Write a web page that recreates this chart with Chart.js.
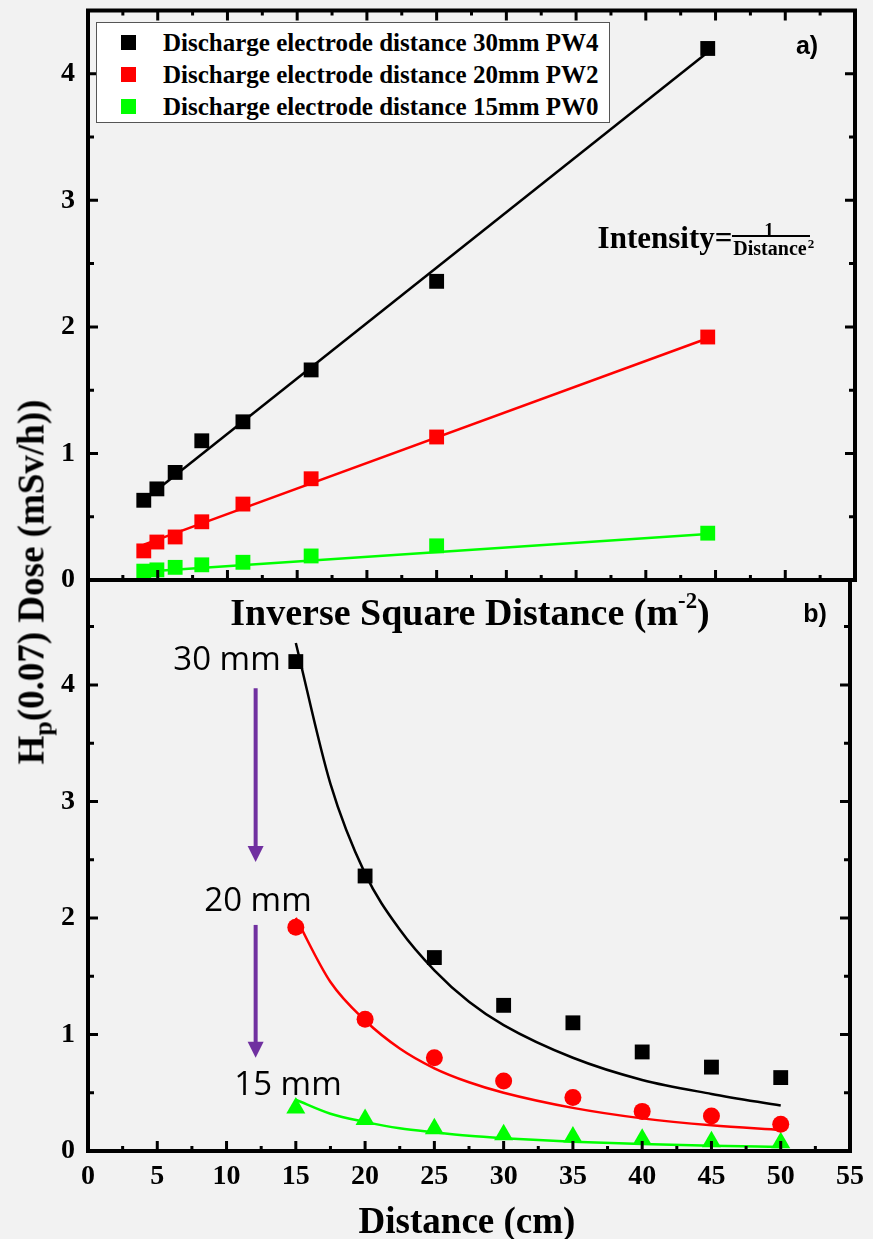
<!DOCTYPE html>
<html>
<head>
<meta charset="utf-8">
<script src="https://cdn.jsdelivr.net/npm/chart.js@4.4.0/dist/chart.umd.min.js"></script>
<style>
  html, body { margin: 0; padding: 0; background: #f2f2f2; }
  #wrap { position: relative; width: 873px; height: 1239px; overflow: hidden; }
  #wrap canvas { position: absolute; left: 0; top: 0; }
  .lbl { position: absolute; transform: translate(-50%, -50%); line-height: 1; white-space: nowrap; color: #000; }
  .serif { font-family: "Liberation Serif", "Times New Roman", serif; font-weight: bold; }
  .sans { font-family: "Liberation Sans", Arial, sans-serif; font-weight: bold; }
  .note { font-family: "Open Sans", sans-serif; font-size: 33px; }
  #legend { position: absolute; left: 96px; top: 22px; width: 512px; height: 99px; background: #fff; border: 1px solid #555; }
  #legend .row { position: absolute; left: 0; height: 30px; line-height: 30px; font-family: "Liberation Serif", "Times New Roman", serif; font-weight: bold; font-size: 25px; white-space: nowrap; }
  #legend .mk { position: absolute; left: 24px; top: 7px; width: 15px; height: 15px; }
  #legend .txt { position: absolute; left: 66px; top: 0; }
  #bar { position: absolute; left: 732px; top: 235px; width: 78px; height: 2px; background: #000; }
</style>
</head>
<body>
<div id="wrap">
  <canvas id="bottomChart" width="873" height="1239"></canvas>
  <canvas id="topChart" width="873" height="1239"></canvas>
  <div id="legend"></div>

  <div class="lbl sans" style="left:807px; top:45px; font-size:25px;">a)</div>
  <div class="lbl sans" style="left:815px; top:613px; font-size:25px;">b)</div>

  <div class="lbl serif" style="left:665px; top:237px; font-size:31px;">Intensity=</div>
  <div class="lbl serif" style="left:769px; top:229px; font-size:19px;">1</div>
  <div id="bar"></div>
  <div class="lbl serif" style="left:770px; top:248px; font-size:20px;">Distance</div>
  <div class="lbl serif" style="left:811px; top:243px; font-size:13px;">2</div>

  <div class="lbl serif" style="left:470px; top:612px; font-size:38px;">Inverse Square Distance (m<span style="font-size:0.6em; position:relative; top:-0.75em;">-2</span>)</div>
  <div class="lbl serif" style="left:467px; top:1220px; font-size:37px;">Distance (cm)</div>
  <div class="lbl serif" style="left:31px; top:582px; font-size:37px; transform:translate(-50%,-50%) rotate(-90deg);">H<span style="font-size:0.7em; position:relative; top:0.3em;">p</span>(0.07) Dose (mSv/h))</div>

  <div class="lbl note" style="left:227px; top:657px;">30 mm</div>
  <div class="lbl note" style="left:258px; top:898px;">20 mm</div>
  <div class="lbl note" style="left:288px; top:1082px;">15 mm</div>
</div>

<script>
// measured distances and doses
const distanceCm = [15, 20, 25, 30, 35, 40, 45, 50];
const inverseSquare = [44.44, 25, 16, 11.11, 8.16, 6.25, 4.94, 4];
const dose30mm = [4.2, 2.36, 1.66, 1.25, 1.10, 0.85, 0.72, 0.63];
const dose20mm = [1.92, 1.13, 0.80, 0.60, 0.46, 0.34, 0.30, 0.23];
const dose15mm = [0.37, 0.27, 0.19, 0.14, 0.12, 0.10, 0.08, 0.07];

const seriesNames = [
  "Discharge electrode distance 30mm PW4",
  "Discharge electrode distance 20mm PW2",
  "Discharge electrode distance 15mm PW0"
];
const seriesColors = ["#000000", "#ff0000", "#00ff00"];

// linear fits in panel a), read at both ends of the drawn lines
const lineFitX = [4, 44.44];
const lineFit30 = [0.63, 4.17];
const lineFit20 = [0.28, 1.91];
const lineFit15 = [0.065, 0.363];

// decay fits in panel b)
const curveX = [15, 17.5, 20, 22.5, 25, 27.5, 30, 35, 40, 45, 50];
const curve30 = [4.36, 3.15, 2.38, 1.90, 1.55, 1.28, 1.08, 0.80, 0.61, 0.49, 0.39];
const curve20 = [2.0, 1.45, 1.12, 0.88, 0.71, 0.59, 0.50, 0.37, 0.28, 0.22, 0.18];
const curve15 = [0.44, 0.32, 0.25, 0.195, 0.16, 0.13, 0.11, 0.08, 0.06, 0.045, 0.035];

// purple arrows between the annotations (data units of panel b)
const arrowX = 12.1;
const arrowFrom = [3.97, 1.94];
const arrowTo = [2.48, 0.80];

function pts(xs, ys) {
  return xs.map((x, i) => ({ x: x, y: ys[i] }));
}

// legend
const legend = document.getElementById("legend");
seriesNames.forEach((name, i) => {
  const row = document.createElement("div");
  row.className = "row";
  row.style.top = (5 + i * 32) + "px";
  row.innerHTML = '<span class="mk" style="background:' + seriesColors[i] + '"></span><span class="txt">' + name + "</span>";
  legend.appendChild(row);
});

const tickFont = { family: "'Liberation Serif', 'Times New Roman', serif", weight: "bold", size: 28 };

// box frame with inward major/minor ticks
const frameTicks = {
  id: "frameTicks",
  afterDraw(chart, args, opts) {
    const { ctx, chartArea: a, scales: { x, y } } = chart;
    ctx.save();
    ctx.strokeStyle = "#000";
    ctx.lineCap = "butt";
    ctx.lineWidth = 3;
    ctx.beginPath();
    for (let v = x.min; v <= x.max + 1e-6; v += 2.5) {
      const px = x.getPixelForValue(v);
      const len = v % 5 === 0 ? 10 : 5;
      ctx.moveTo(px, a.bottom);
      ctx.lineTo(px, a.bottom - len);
      if (opts.topTicks) {
        ctx.moveTo(px, a.top);
        ctx.lineTo(px, a.top + len);
      }
    }
    for (let v = y.min; v <= y.max + 1e-6; v += 0.5) {
      const py = y.getPixelForValue(v);
      const len = v % 1 === 0 ? 10 : 6;
      ctx.moveTo(a.left, py);
      ctx.lineTo(a.left + len, py);
      ctx.moveTo(a.right, py);
      ctx.lineTo(a.right - len, py);
    }
    ctx.stroke();
    ctx.lineWidth = 4;
    ctx.strokeRect(a.left, a.top, a.right - a.left, a.bottom - a.top);
    ctx.restore();
  }
};

const arrows = {
  id: "arrows",
  afterDatasetsDraw(chart) {
    const { ctx, scales: { x, y } } = chart;
    ctx.save();
    ctx.strokeStyle = "#7030a0";
    ctx.fillStyle = "#7030a0";
    ctx.lineWidth = 4;
    arrowFrom.forEach((from, i) => {
      const px = x.getPixelForValue(arrowX);
      const y0 = y.getPixelForValue(from);
      const y1 = y.getPixelForValue(arrowTo[i]);
      ctx.beginPath();
      ctx.moveTo(px, y0);
      ctx.lineTo(px, y1 - 14);
      ctx.stroke();
      ctx.beginPath();
      ctx.moveTo(px - 8, y1 - 16);
      ctx.lineTo(px + 8, y1 - 16);
      ctx.lineTo(px, y1);
      ctx.closePath();
      ctx.fill();
    });
    ctx.restore();
  }
};

function pointSet(data, color, style, radius) {
  return {
    data: data,
    pointStyle: style,
    pointRadius: radius,
    pointBackgroundColor: color,
    pointBorderWidth: 0,
    showLine: false,
    clip: false
  };
}

function lineSet(data, color, smooth) {
  return {
    data: data,
    showLine: true,
    borderColor: color,
    borderWidth: 2.5,
    pointRadius: 0,
    cubicInterpolationMode: smooth ? "monotone" : "default",
    clip: false
  };
}

// fixed axis widths, and no extra room for half tick labels
function fixY(scale) {
  scale.width = 88;
  scale.paddingTop = 0;
  scale.paddingBottom = 0;
}

// panel a): dose vs inverse square distance
new Chart(document.getElementById("topChart"), {
  type: "scatter",
  data: {
    datasets: [
      pointSet(pts(inverseSquare, dose30mm), seriesColors[0], "rect", 10.5),
      pointSet(pts(inverseSquare, dose20mm), seriesColors[1], "rect", 10.5),
      pointSet(pts(inverseSquare, dose15mm), seriesColors[2], "rect", 10.5),
      lineSet(pts(lineFitX, lineFit30), seriesColors[0], false),
      lineSet(pts(lineFitX, lineFit20), seriesColors[1], false),
      lineSet(pts(lineFitX, lineFit15), seriesColors[2], false)
    ]
  },
  options: {
    responsive: false,
    animation: false,
    events: [],
    layout: { padding: { left: 0, right: 18, top: 7, bottom: 659 } },
    plugins: { legend: { display: false }, tooltip: { enabled: false }, frameTicks: { topTicks: true } },
    scales: {
      x: { type: "linear", min: 0, max: 55, display: false },
      y: {
        min: 0,
        max: 4.5,
        grid: { display: false, drawTicks: false },
        border: { display: false },
        afterFit: fixY,
        ticks: {
          stepSize: 0.5,
          autoSkip: false,
          padding: 13,
          color: "#000",
          font: tickFont,
          callback: (v) => (Number.isInteger(v) ? v : "")
        }
      }
    }
  },
  plugins: [frameTicks]
});

// panel b): dose vs distance
new Chart(document.getElementById("bottomChart"), {
  type: "scatter",
  data: {
    datasets: [
      pointSet(pts(distanceCm, dose30mm), seriesColors[0], "rect", 10.5),
      pointSet(pts(distanceCm, dose20mm), seriesColors[1], "circle", 8.5),
      pointSet(pts(distanceCm, dose15mm), seriesColors[2], "triangle", 11),
      lineSet(pts(curveX, curve30), seriesColors[0], true),
      lineSet(pts(curveX, curve20), seriesColors[1], true),
      lineSet(pts(curveX, curve15), seriesColors[2], true)
    ]
  },
  options: {
    responsive: false,
    animation: false,
    events: [],
    layout: { padding: { left: 0, right: 18, top: 580, bottom: 0 } },
    plugins: { legend: { display: false }, tooltip: { enabled: false }, frameTicks: { topTicks: false } },
    scales: {
      x: {
        type: "linear",
        min: 0,
        max: 55,
        grid: { display: false, drawTicks: false },
        border: { display: false },
        afterFit: (scale) => { scale.height = 88; },
        ticks: {
          stepSize: 2.5,
          autoSkip: false,
          maxRotation: 0,
          padding: 9,
          color: "#000",
          font: tickFont,
          callback: (v) => (v % 5 === 0 ? v : "")
        }
      },
      y: {
        min: 0,
        max: 4.9,
        grid: { display: false, drawTicks: false },
        border: { display: false },
        afterFit: fixY,
        ticks: {
          stepSize: 0.5,
          autoSkip: false,
          padding: 13,
          color: "#000",
          font: tickFont,
          callback: (v) => (Number.isInteger(v) ? v : "")
        }
      }
    }
  },
  plugins: [frameTicks, arrows]
});
</script>
</body>
</html>
